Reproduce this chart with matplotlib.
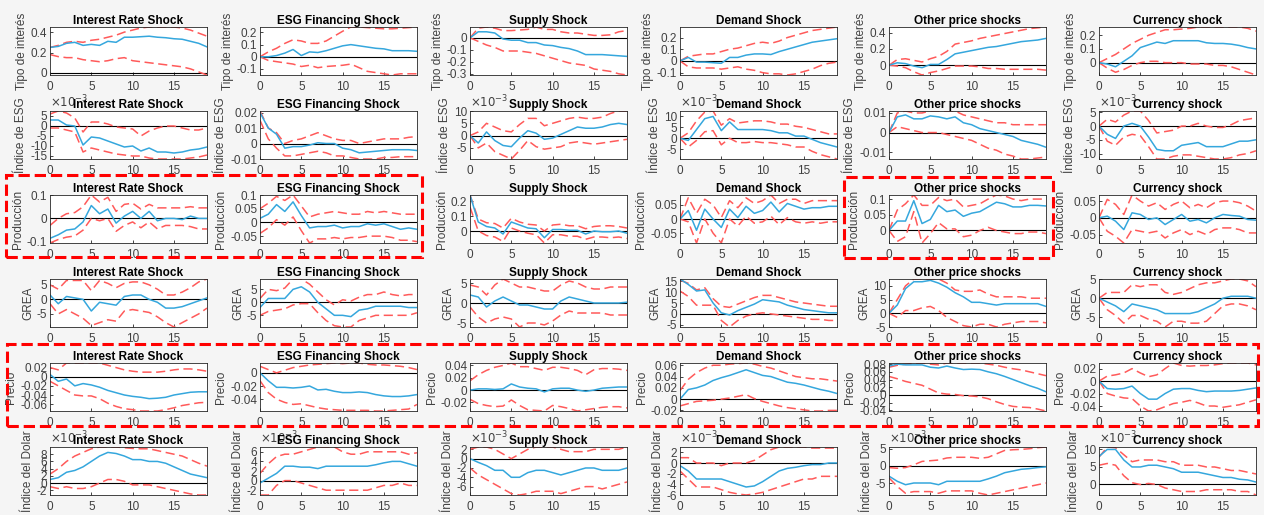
import numpy as np
import matplotlib
matplotlib.use('Agg')
import matplotlib.pyplot as plt
from matplotlib.patches import Rectangle
from matplotlib.ticker import FuncFormatter

plt.rcParams['font.family'] = ['Liberation Sans', 'DejaVu Sans']
plt.rcParams['axes.unicode_minus'] = False

# horizon of the impulse responses
horizon = np.arange(20)

shocks = ['Interest Rate Shock', 'ESG Financing Shock', 'Supply Shock',
          'Demand Shock', 'Other price shocks', 'Currency shock']
variables = ['Tipo de interés', 'Índice de ESG', 'Producción',
             'GREA', 'Precio', 'Índice del Dolar']

# --- Tipo de interés ---
irf_tipo = [
    [0.25, 0.26, 0.29, 0.30, 0.27, 0.28, 0.27, 0.31, 0.30, 0.35, 0.35, 0.355, 0.36, 0.35, 0.345, 0.335, 0.33, 0.31, 0.29, 0.255],
    [0, 0, 0.01, 0.03, 0.06, 0.01, 0.04, 0.035, 0.05, 0.07, 0.09, 0.10, 0.09, 0.08, 0.07, 0.065, 0.05, 0.05, 0.05, 0.045],
    [0, 0.05, 0.05, 0.04, -0.01, -0.02, -0.02, -0.04, -0.04, -0.06, -0.065, -0.08, -0.09, -0.11, -0.14, -0.14, -0.14, -0.145, -0.15, -0.155],
    [0, 0.03, -0.01, -0.01, -0.015, -0.02, 0.03, 0.03, 0.05, 0.06, 0.06, 0.055, 0.08, 0.10, 0.12, 0.14, 0.16, 0.17, 0.18, 0.19],
    [0, 0.03, 0.02, -0.01, -0.03, 0.01, 0.01, 0.07, 0.14, 0.16, 0.18, 0.20, 0.22, 0.23, 0.25, 0.27, 0.29, 0.30, 0.31, 0.33],
    [0, -0.01, -0.03, 0.01, 0.05, 0.11, 0.13, 0.15, 0.14, 0.16, 0.16, 0.16, 0.16, 0.145, 0.14, 0.14, 0.135, 0.125, 0.11, 0.10],
]
hi_tipo = [
    [0.25, 0.27, 0.30, 0.31, 0.30, 0.32, 0.33, 0.35, 0.37, 0.40, 0.42, 0.44, 0.45, 0.45, 0.45, 0.45, 0.44, 0.42, 0.39, 0.36],
    [0, 0.04, 0.07, 0.11, 0.14, 0.13, 0.11, 0.11, 0.13, 0.17, 0.21, 0.245, 0.245, 0.24, 0.235, 0.23, 0.23, 0.235, 0.24, 0.245],
    [0, 0.08, 0.09, 0.08, 0.06, 0.06, 0.065, 0.07, 0.09, 0.07, 0.07, 0.05, 0.04, 0.04, 0.03, 0.02, 0.02, 0.025, 0.05, 0.06],
    [0, 0.04, 0.05, 0.06, 0.06, 0.08, 0.10, 0.11, 0.13, 0.15, 0.16, 0.15, 0.17, 0.20, 0.22, 0.24, 0.26, 0.27, 0.28, 0.29],
    [0, 0.07, 0.08, 0.06, 0.04, 0.08, 0.11, 0.17, 0.26, 0.28, 0.30, 0.33, 0.35, 0.37, 0.39, 0.41, 0.43, 0.45, 0.46, 0.47],
    [0, 0.03, 0.06, 0.10, 0.14, 0.17, 0.20, 0.22, 0.24, 0.24, 0.245, 0.25, 0.26, 0.26, 0.26, 0.26, 0.26, 0.26, 0.25, 0.23],
]
lo_tipo = [
    [0.18, 0.16, 0.15, 0.15, 0.13, 0.12, 0.11, 0.12, 0.14, 0.15, 0.12, 0.11, 0.10, 0.09, 0.08, 0.07, 0.06, 0.04, 0.01, -0.02],
    [0, -0.03, -0.04, -0.05, -0.06, -0.08, -0.07, -0.09, -0.08, -0.075, -0.07, -0.06, -0.09, -0.12, -0.13, -0.14, -0.15, -0.14, -0.14, -0.14],
    [0, -0.03, -0.06, -0.08, -0.11, -0.11, -0.11, -0.12, -0.13, -0.15, -0.17, -0.19, -0.21, -0.22, -0.23, -0.26, -0.27, -0.28, -0.30, -0.31],
    [0, -0.05, -0.06, -0.06, -0.06, -0.07, -0.06, -0.05, -0.07, -0.08, -0.10, -0.11, -0.11, -0.12, -0.11, -0.09, -0.07, -0.04, -0.02, -0.01],
    [0, -0.01, -0.03, -0.08, -0.12, -0.09, -0.07, -0.04, -0.01, -0.01, -0.01, -0.02, -0.04, -0.04, -0.05, -0.05, -0.05, -0.05, -0.05, -0.06],
    [0, -0.04, -0.07, -0.05, -0.02, 0.0, 0.01, 0.01, 0.0, 0.0, 0.0, -0.01, -0.01, -0.01, -0.02, -0.02, -0.03, -0.05, -0.07, -0.09],
]

# --- Índice de ESG (cols 1, 3, 4, 6 in units of 1e-3) ---
irf_esg = [
    [3, 3, 0.5, 0, -9.5, -5.5, -6, -7.5, -9, -10.5, -10, -12.5, -11, -13, -13, -13.5, -13, -12, -11.5, -10.5],
    [0.02, 0.01, 0.006, -0.003, -0.002, -0.002, -0.001, 0.0005, 0.0, 0.0, -0.003, -0.004, -0.006, -0.0055, -0.005, -0.0045, -0.004, -0.004, -0.004, -0.0045],
    [0, -3, 1.5, -2, -4, -4.5, -1, 2, 1, -1.5, -1, 0.5, 2, 3.5, 3, 3, 3.5, 4.5, 5, 4.5],
    [0, -1, 4, 9, 10, 3.5, 7.5, 4, 4, 4, 4, 3.5, 2.5, 2.5, 1, 1, -0.5, -2, -3, -4],
    [0, 0.008, 0.009, 0.007, 0.007, 0.0085, 0.008, 0.007, 0.008, 0.005, 0.004, 0.002, 0.001, 0.0, -0.001, -0.002, -0.004, -0.005, -0.006, -0.0075],
    [0, -3, -4.5, 0, 1, 0, -4, -8.5, -9, -9, -7, -6.5, -6, -7.5, -7.5, -7.5, -6.5, -5.5, -5.5, -5],
]
hi_esg = [
    [6, 7.5, 6.5, 4, -3, 2, 2, 1, -0.5, -1, -1.5, -5, -2.5, -1, 0, 0, -1, -2, -2, -1],
    [0.021, 0.01, 0.007, 0.0, 0.002, 0.003, 0.005, 0.007, 0.005, 0.003, 0.002, 0.002, 0.0, 0.001, 0.002, 0.003, 0.003, 0.003, 0.004, 0.0045],
    [0, 1.5, 5, 3.5, 2, 1.5, 4.5, 7, 7, 4, 5, 6, 7, 7.5, 7, 7, 7.5, 9, 10, 10],
    [0, 2.5, 8, 12, 12.5, 6, 9, 7, 7.5, 8, 8, 7.5, 6.5, 6.5, 5.5, 5, 4, 3, 2, 2],
    [0, 0.01, 0.011, 0.01, 0.01, 0.011, 0.011, 0.011, 0.011, 0.009, 0.008, 0.007, 0.006, 0.005, 0.005, 0.004, 0.004, 0.004, 0.004, 0.004],
    [0, 2.5, 1.5, 4, 5.5, 5.5, 2, -2.5, -2, -1.5, 0, 0, 1, 0, -0.5, -0.5, 0.5, 2, 2.5, 3],
]
lo_esg = [
    [-1, -1, -2, -3, -13, -11, -12, -13, -14, -14.5, -15, -15, -16, -16.5, -16.5, -16.5, -16.5, -16, -15.5, -14.5],
    [0.015, 0.003, -0.003, -0.008, -0.008, -0.007, -0.006, -0.005, -0.006, -0.008, -0.008, -0.009, -0.01, -0.01, -0.01, -0.009, -0.009, -0.0085, -0.0085, -0.0085],
    [0, -5, -3, -6.5, -8, -9.5, -6, -2, -4.5, -5.5, -5, -4.5, -3, -2.5, -3, -3.5, -3, -2.5, -2, -1.5],
    [0, -4, -1, 3, 3.5, -3, 0, -2, -2, -1.5, -2, -2, -2.5, -3, -4, -4, -6, -7.5, -8.5, -9.5],
    [0, 0.003, 0.002, 0.001, 0, 0, 0, -0.001, -0.002, -0.003, -0.004, -0.006, -0.008, -0.009, -0.011, -0.012, -0.0135, -0.0135, -0.013, -0.0125],
    [0, -5.5, -7, -4, -3, -3.5, -7.5, -12, -12, -11, -10.5, -10.5, -11, -11.5, -12, -12, -11.5, -10.5, -10, -9],
]

# --- Producción ---
irf_prod = [
    [-0.085, -0.07, -0.05, -0.045, -0.015, 0.055, 0.02, 0.04, -0.02, 0.01, 0.03, 0.0, 0.03, -0.01, 0.0, 0.0, -0.005, 0.01, 0.0, 0.0],
    [0.015, 0.03, 0.065, 0.04, 0.075, 0.025, -0.02, -0.015, -0.015, -0.01, -0.02, -0.015, -0.015, -0.005, -0.01, -0.005, -0.015, -0.025, -0.02, -0.025],
    [0.24, 0.06, 0.03, 0.02, -0.02, 0.06, 0.04, 0.02, 0.015, -0.045, 0.01, 0.01, 0.005, 0.005, -0.02, 0.0, -0.005, -0.005, 0.0, -0.015],
    [0, 0.03, -0.04, 0.035, 0.0, -0.03, 0.035, 0.005, 0.045, 0.02, 0.03, 0.06, 0.025, 0.055, 0.045, 0.035, 0.04, 0.04, 0.045, 0.045],
    [0, 0.03, 0.03, 0.095, 0.022, 0.035, 0.08, 0.06, 0.065, 0.045, 0.055, 0.06, 0.075, 0.09, 0.085, 0.075, 0.075, 0.08, 0.08, 0.078],
    [0, 0.005, -0.01, -0.035, 0.015, 0.01, -0.005, 0.0, -0.02, -0.005, 0.01, -0.01, -0.005, -0.015, 0.0, 0.01, 0.007, 0.005, -0.005, -0.007],
]
hi_prod = [
    [-0.03, 0.0, 0.02, 0.025, 0.05, 0.1, 0.07, 0.09, 0.03, 0.06, 0.065, 0.04, 0.06, 0.045, 0.045, 0.045, 0.045, 0.05, 0.045, 0.045],
    [0.05, 0.07, 0.095, 0.08, 0.1, 0.06, 0.02, 0.03, 0.035, 0.04, 0.035, 0.03, 0.03, 0.04, 0.035, 0.04, 0.035, 0.03, 0.03, 0.03],
    [0.24, 0.08, 0.055, 0.05, 0.02, 0.085, 0.06, 0.045, 0.04, 0.0, 0.04, 0.045, 0.035, 0.035, 0.015, 0.03, 0.035, 0.035, 0.03, 0.02],
    [0, 0.075, 0.02, 0.07, 0.05, 0.005, 0.065, 0.04, 0.075, 0.055, 0.065, 0.085, 0.055, 0.07, 0.07, 0.055, 0.065, 0.065, 0.065, 0.065],
    [0, 0.065, 0.085, 0.113, 0.08, 0.08, 0.105, 0.095, 0.1, 0.075, 0.08, 0.085, 0.1, 0.113, 0.11, 0.1, 0.095, 0.1, 0.1, 0.1],
    [0, 0.055, 0.04, 0.01, 0.068, 0.05, 0.035, 0.045, 0.025, 0.04, 0.05, 0.03, 0.04, 0.03, 0.045, 0.05, 0.05, 0.045, 0.035, 0.02],
]
lo_prod = [
    [-0.105, -0.09, -0.08, -0.075, -0.05, 0.0, -0.01, 0.0, -0.055, -0.03, -0.015, -0.04, -0.015, -0.045, -0.03, -0.03, -0.03, -0.035, -0.045, -0.045],
    [-0.04, -0.02, 0.01, -0.01, 0.02, -0.03, -0.075, -0.06, -0.06, -0.055, -0.06, -0.055, -0.055, -0.05, -0.05, -0.05, -0.055, -0.065, -0.065, -0.07],
    [0.16, 0.0, -0.03, -0.04, -0.07, 0.02, 0.0, -0.015, -0.025, -0.08, -0.025, -0.025, -0.035, -0.035, -0.055, -0.04, -0.04, -0.045, -0.04, -0.05],
    [0, -0.01, -0.085, 0.0, -0.05, -0.085, 0.0, -0.025, 0.01, -0.015, -0.01, 0.01, -0.02, 0.005, -0.01, -0.015, -0.01, -0.015, -0.01, -0.01],
    [0, -0.035, -0.02, 0.06, -0.04, -0.01, 0.025, 0.005, 0.005, -0.02, -0.015, 0.0, 0.01, 0.0, -0.005, -0.01, -0.01, -0.005, -0.005, -0.01],
    [0, -0.04, -0.055, -0.075, -0.035, -0.04, -0.045, -0.04, -0.06, -0.045, -0.035, -0.05, -0.04, -0.05, -0.035, -0.03, -0.03, -0.035, -0.045, -0.045],
]

# --- GREA ---
irf_grea = [
    [1.5, -1.5, 1, 0.5, 0, -4, -1, -1.5, -2, 1, 1.5, 1.5, 0, -1, -3, -3, -2.5, -1.5, -0.5, 0.5],
    [-2, 1.5, 1.5, 1.5, 5, 6, 4, 0, -2.5, -5, -5, -5.5, -3, -2.5, -1.5, -1.5, -1.5, -1.5, -2, -2],
    [2, 1.5, -1, 0.5, 1.5, 0.5, -0.5, -0.5, -1, -1.5, -1.5, 0.5, 1.5, 1, 0.5, 0, 0, 0, 0, 0.2],
    [16, 13.5, 10.5, 11, 5, 0.5, -0.5, 1.5, 3, 4.5, 6.5, 6, 5.5, 4, 3, 2, 1.5, 1, 0.5, 0.5],
    [0, 3, 9, 11.5, 11.5, 12, 11, 9.5, 7.5, 6, 4, 4, 3.5, 3, 3.5, 3.5, 3.5, 3.5, 3.5, 2.5],
    [0, -1, -2, -3.5, -1.5, -2, -2.5, -3, -4, -4, -4, -4, -3.5, -2.5, -1.5, 0, 0.5, 0.5, 0.5, 0],
]
hi_grea = [
    [5, 3.5, 6.5, 6.5, 6.5, 3, 6.5, 5.5, 4, 5.5, 6, 6, 5, 3.5, 1.5, 1.5, 2.5, 4, 6, 7],
    [1.5, 5, 4.5, 5.5, 9, 9, 7, 4, 1, -1, 1, 0.5, 2, 3, 3, 4, 3, 2.5, 3, 3],
    [4.5, 4, 2, 4.5, 6, 5, 4, 4, 3.5, 3, 3, 4.5, 5.5, 5, 4, 3.5, 3.5, 4, 4, 4],
    [15.5, 14, 11, 12, 7, 3.5, 3, 4.5, 6, 7.5, 8.5, 8.5, 7.5, 6.5, 5.5, 5, 4.5, 4, 3.5, 3.5],
    [0, 5, 10, 12.5, 12.5, 12.5, 12.5, 11, 8.5, 8, 8, 8.5, 7, 6, 6, 6, 6, 5.5, 5.5, 5.5],
    [0, 1.5, 1.5, 1.5, 3.5, 3, 3.5, 3.5, 1.5, 1, 1.5, 2.5, 3.5, 4, 4, 4.5, 5, 5, 4.5, 3],
]
lo_grea = [
    [-1.5, -5, -3.5, -5, -6.5, -9, -8, -7, -7.5, -4, -3.5, -4, -4.5, -6, -8, -9.5, -8, -6.5, -5, -3],
    [-5, -3.5, -3, -2.5, -1, -0.5, -0.5, -4, -7, -9, -9.5, -9.5, -7, -6, -5, -5, -5, -5, -5, -4],
    [-1, -3.5, -5, -4, -3.5, -4, -6, -5, -5, -5.5, -4.5, -3, -2, -2.5, -2.5, -2.5, -2.5, -3, -3, -3],
    [10.5, 8, 4, 4, 4, -3, -6, -3, -1, 0, 0.5, 0, -0.5, -1, -1.5, -2, -2.5, -2.5, -3, -3],
    [0, -1.5, 1, 1, 2, 2.5, 1, -1.5, -3, -4.5, -5, -4, -4, -5, -4, -3.5, -3, -3, -3, -3.5],
    [0, -3, -4.5, -6.5, -4.5, -4.5, -5.5, -6, -7.5, -6, -6, -6.5, -6.5, -6, -4, -2, -1.5, -1.5, -2, -3],
]

# --- Precio ---
irf_precio = [
    [0.005, -0.01, -0.005, -0.02, -0.015, -0.018, -0.023, -0.03, -0.035, -0.04, -0.043, -0.045, -0.048, -0.047, -0.045, -0.04, -0.037, -0.034, -0.033, -0.033],
    [0, -0.012, -0.022, -0.022, -0.023, -0.022, -0.02, -0.026, -0.025, -0.028, -0.03, -0.03, -0.029, -0.03, -0.033, -0.035, -0.036, -0.036, -0.035, -0.033],
    [0, 0.002, 0.002, 0.001, 0.002, 0.01, 0.005, 0.003, 0.002, -0.003, 0.002, 0.003, 0.003, 0.0, -0.002, 0.0, 0.003, 0.004, 0.005, 0.005],
    [0, 0.017, 0.02, 0.025, 0.033, 0.038, 0.042, 0.047, 0.052, 0.047, 0.042, 0.04, 0.035, 0.03, 0.028, 0.025, 0.021, 0.017, 0.014, 0.01],
    [0.075, 0.08, 0.078, 0.078, 0.078, 0.072, 0.07, 0.075, 0.07, 0.066, 0.067, 0.066, 0.06, 0.055, 0.048, 0.04, 0.032, 0.024, 0.017, 0.008],
    [0, -0.012, -0.013, -0.012, -0.008, -0.02, -0.029, -0.029, -0.02, -0.013, -0.012, -0.012, -0.015, -0.017, -0.016, -0.016, -0.016, -0.015, -0.013, -0.011],
]
hi_precio = [
    [0.02, 0.015, 0.03, 0.03, 0.03, 0.03, 0.03, 0.025, 0.02, 0.015, 0.012, 0.01, 0.01, 0.01, 0.012, 0.015, 0.017, 0.017, 0.015, 0.012],
    [0.01, 0.005, 0.0, 0.004, 0.008, 0.01, 0.012, 0.013, 0.014, 0.015, 0.014, 0.015, 0.015, 0.013, 0.012, 0.012, 0.011, 0.01, 0.008, 0.005],
    [0.015, 0.025, 0.032, 0.037, 0.04, 0.044, 0.038, 0.038, 0.035, 0.032, 0.037, 0.037, 0.035, 0.032, 0.025, 0.033, 0.035, 0.035, 0.034, 0.032],
    [0.015, 0.035, 0.047, 0.055, 0.06, 0.06, 0.062, 0.063, 0.064, 0.062, 0.058, 0.055, 0.05, 0.045, 0.04, 0.038, 0.036, 0.036, 0.034, 0.032],
    [0.072, 0.077, 0.08, 0.082, 0.083, 0.08, 0.078, 0.083, 0.083, 0.083, 0.083, 0.083, 0.08, 0.077, 0.072, 0.068, 0.065, 0.06, 0.055, 0.05],
    [0, 0.008, 0.01, 0.013, 0.02, 0.013, 0.007, 0.01, 0.02, 0.029, 0.025, 0.024, 0.025, 0.025, 0.026, 0.028, 0.029, 0.029, 0.029, 0.026],
]
lo_precio = [
    [-0.01, -0.02, -0.03, -0.04, -0.042, -0.042, -0.048, -0.058, -0.065, -0.07, -0.072, -0.075, -0.075, -0.075, -0.072, -0.068, -0.063, -0.06, -0.057, -0.056],
    [-0.012, -0.03, -0.04, -0.045, -0.048, -0.047, -0.05, -0.053, -0.055, -0.056, -0.057, -0.057, -0.057, -0.057, -0.058, -0.058, -0.057, -0.056, -0.055, -0.048],
    [-0.015, -0.022, -0.025, -0.027, -0.026, -0.016, -0.025, -0.032, -0.033, -0.034, -0.025, -0.027, -0.03, -0.034, -0.032, -0.03, -0.028, -0.027, -0.027, -0.029],
    [-0.012, -0.008, -0.004, -0.003, -0.002, 0.0, 0.002, 0.005, 0.008, 0.001, -0.004, -0.008, -0.012, -0.015, -0.017, -0.019, -0.021, -0.021, -0.02, -0.02],
    [0.048, 0.042, 0.035, 0.03, 0.025, 0.015, 0.005, 0.002, 0.001, -0.002, -0.003, -0.005, -0.01, -0.018, -0.025, -0.03, -0.032, -0.033, -0.037, -0.042],
    [0, -0.02, -0.024, -0.027, -0.028, -0.04, -0.048, -0.046, -0.041, -0.036, -0.034, -0.031, -0.035, -0.04, -0.04, -0.042, -0.04, -0.038, -0.034, -0.03],
]

# --- Índice del Dolar (units of 1e-3) ---
irf_dolar = [
    [1, 1.5, 3, 3.5, 4.5, 6, 7.5, 8.5, 8.2, 7.5, 6.5, 6.5, 6, 6, 5.5, 4.5, 3.5, 2.5, 2, 1.5],
    [-0.5, 0.5, 1.5, 3, 3, 2.8, 2.8, 2.5, 3, 3, 3, 3, 3, 3, 3.3, 3.7, 4, 4, 3.5, 3],
    [0, -0.8, -1.5, -2.5, -2.5, -4, -4, -3, -2.5, -2.5, -3, -3.5, -3, -2.5, -2, -2, -2.5, -2.5, -2.5, -2],
    [-0.5, -1.5, -3, -3, -3, -3, -3.5, -4, -4.5, -4.3, -3.5, -2.5, -1.5, -1, -0.8, -0.5, -0.3, -0.3, 0, 0],
    [-3, -4.5, -5.5, -5, -5, -5, -5.5, -4.5, -4.5, -4.5, -4.5, -4.5, -3.8, -3, -2, -1.5, -1, -0.8, -0.5, -0.3],
    [8, 10, 10, 7, 5, 5, 5.5, 5.5, 5, 4.5, 3.5, 3.5, 3.5, 3, 2.5, 2, 2, 1.5, 1.3, 0.7],
]
hi_dolar = [
    [2.5, 4, 6, 7.5, 8.5, 9.5, 10, 10, 10, 9.8, 9.6, 9.5, 9.5, 9, 8.5, 8, 7.5, 6.5, 5.5, 4.7],
    [1.5, 3.5, 5, 5.5, 5.5, 6, 6.5, 7, 7, 7, 6, 5.5, 5.5, 6, 6, 6, 6, 6, 5.5, 5.8],
    [2, 2.5, 2.5, 2, 1, 0, 1, 2, 2.5, 2.5, 2.5, 2, 1.5, 1.5, 1.5, 2, 2, 2, 2, 2.5],
    [1, 1, 0, 0, 0, -0.5, 0, 0, 0, 0.5, 1.5, 2.5, 3, 3, 3, 3, 2.8, 2.8, 2.8, 2.8],
    [-0.5, -0.7, -0.5, 0.3, 1.3, 1.5, 1.7, 2.3, 2.5, 2.5, 2.5, 2.2, 2.5, 3.5, 4.5, 4.7, 4.8, 5, 5.3, 5.5],
    [7.8, 10.7, 10.5, 8.5, 6.5, 7, 7, 7, 6.5, 6.5, 5.5, 5.5, 5.5, 5, 5, 4.5, 4, 4, 3.5, 3],
]
lo_dolar = [
    [-1, -1.5, -1, -1.5, -1.5, -1, 0, 1, 1, 0.5, -0.5, -0.5, -0.5, -1, -1.5, -2, -2.5, -3, -3.3, -3.3],
    [-3, -3, -1, 0, 0, -0.5, -1, -1.5, -2, -2, -2, -2, -2, -2, -1.5, -1, -1, -0.5, -1, -1],
    [-2, -3.5, -4.5, -5.5, -6.5, -7.5, -7.8, -7.5, -7, -7, -7, -7.5, -7, -6.5, -6, -6, -6.5, -6, -5.5, -5],
    [-1.5, -3, -4.5, -4.5, -4.5, -5, -5.5, -5.8, -6, -5.8, -5.5, -5, -4.5, -4, -3.5, -3, -3, -2.5, -2.5, -2.5],
    [-3.5, -6, -8, -7.5, -7.5, -7.5, -8, -7.3, -7.3, -7.3, -7.3, -8, -8.5, -8, -7.5, -7, -6.5, -6, -5.5, -5],
    [5.5, 6, 5.5, 2.5, 0.5, 0, 0.3, 0, -1, -1.5, -2, -2, -2, -1.5, -1.5, -1.5, -1.5, -2, -2, -3],
]

# y tick values shown on each panel
yticks = [
    [[0, 0.2, 0.4], [-0.1, 0, 0.1, 0.2], [-0.3, -0.2, -0.1, 0], [-0.1, 0, 0.1, 0.2], [0, 0.2, 0.4], [0, 0.1, 0.2]],
    [[-15, -10, -5, 0, 5], [-0.01, 0, 0.01, 0.02], [-5, 0, 5, 10], [-5, 0, 5, 10], [-0.01, 0, 0.01], [-10, -5, 0, 5]],
    [[-0.1, 0, 0.1], [-0.05, 0, 0.05, 0.1], [0, 0.1, 0.2], [-0.05, 0, 0.05], [0, 0.05, 0.1], [-0.05, 0, 0.05]],
    [[-5, 0, 5], [-5, 0, 5], [-5, 0, 5], [-5, 0, 5, 10, 15], [-5, 0, 5, 10], [-5, 0, 5]],
    [[-0.06, -0.04, -0.02, 0, 0.02], [-0.04, -0.02, 0], [-0.02, 0, 0.02, 0.04], [-0.02, 0, 0.02, 0.04, 0.06],
     [-0.04, -0.02, 0, 0.02, 0.04, 0.06, 0.08], [-0.04, -0.02, 0, 0.02]],
    [[-2, 0, 2, 4, 6, 8], [-2, 0, 2, 4, 6], [-6, -4, -2, 0, 2], [-6, -4, -2, 0, 2], [-5, 0, 5], [0, 5, 10]],
]
# panels whose values are in units of 1e-3
scaled = [
    [False] * 6,
    [True, False, True, True, False, True],
    [False] * 6,
    [False] * 6,
    [False] * 6,
    [True] * 6,
]

rows = [(irf_tipo, lo_tipo, hi_tipo), (irf_esg, lo_esg, hi_esg), (irf_prod, lo_prod, hi_prod),
        (irf_grea, lo_grea, hi_grea), (irf_precio, lo_precio, hi_precio), (irf_dolar, lo_dolar, hi_dolar)]

blue = '#35a7dd'
red = '#ff5a5a'
txt = '#404040'

W, H = 1264, 515
fig = plt.figure(figsize=(W / 100, H / 100), dpi=100, facecolor='#f5f5f5')
col_left = [50, 260, 470, 680, 889, 1099]
row_top = [27, 111, 195, 279, 363, 447]
ax_w, ax_h = 157, 48

fmt = FuncFormatter(lambda v, p: '%g' % round(v, 6) if abs(v) > 1e-12 else '0')

for r in range(6):
    irf, lo, hi = rows[r]
    for c in range(6):
        ax = fig.add_axes([col_left[c] / W, 1 - (row_top[r] + ax_h) / H, ax_w / W, ax_h / H])
        ax.plot(horizon, np.zeros(len(horizon)), color='k', lw=0.8)
        ax.plot(horizon, hi[c], color=red, lw=1.1, dashes=(6, 3))
        ax.plot(horizon, lo[c], color=red, lw=1.1, dashes=(6, 3))
        ax.plot(horizon, irf[c], color=blue, lw=1.1)
        ax.margins(x=0, y=0)
        ax.set_xticks([0, 5, 10, 15])
        ax.set_yticks(yticks[r][c])
        ax.yaxis.set_major_formatter(fmt)
        ax.tick_params(direction='in', length=2.5, width=0.6, labelsize=8.5,
                       colors='#262626', labelcolor=txt, pad=2)
        ax.tick_params(axis='x', pad=4)
        for s in ax.spines.values():
            s.set_color('#262626')
            s.set_linewidth(0.6)
        ax.set_title(shocks[c], fontsize=8.5, fontweight='bold', pad=2)
        ax.set_ylabel(variables[r], fontsize=8.5, color=txt, labelpad=2)
        if scaled[r][c]:
            ax.text(0.0, 1.01, r'$\times 10^{-3}$', transform=ax.transAxes, fontsize=8.5,
                    color=txt, ha='left', va='bottom')

# red dashed highlight boxes (pixel coordinates)
boxes = [(6, 175, 422, 257), (844, 177, 1053, 258), (7, 344, 1258, 426)]
for x0, y0, x1, y1 in boxes:
    fig.add_artist(Rectangle((x0 / W, 1 - y1 / H), (x1 - x0) / W, (y1 - y0) / H,
                             transform=fig.transFigure, fill=False, ec='#ff0000',
                             lw=2.2, ls='--'))

fig.savefig('out.png', dpi=100, facecolor=fig.get_facecolor())
